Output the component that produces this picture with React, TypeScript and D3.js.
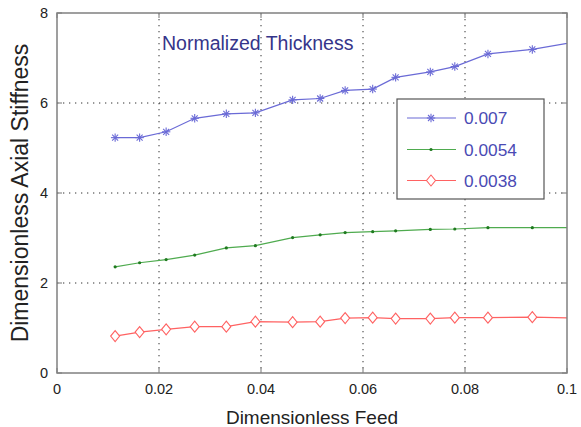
import React from 'react';
import * as d3 from 'd3';

// dimensionless feed (x); last point lies past the axis limit and is clipped
const feed = [0.0114, 0.0162, 0.0214, 0.027, 0.0332, 0.0389, 0.0462, 0.0516, 0.0565, 0.0619, 0.0664, 0.0732, 0.078, 0.0845, 0.0932, 0.106];
const stiff007 = [5.23, 5.23, 5.36, 5.66, 5.76, 5.78, 6.07, 6.1, 6.28, 6.31, 6.57, 6.69, 6.81, 7.09, 7.19, 7.44];
const stiff0054 = [2.36, 2.45, 2.52, 2.62, 2.78, 2.83, 3.01, 3.07, 3.12, 3.14, 3.16, 3.19, 3.2, 3.23, 3.23, 3.23];
const stiff0038 = [0.82, 0.91, 0.97, 1.03, 1.03, 1.14, 1.13, 1.14, 1.22, 1.23, 1.21, 1.21, 1.23, 1.23, 1.24, 1.21];
const seriesNames = ['0.007', '0.0054', '0.0038'];
const xTicks = [0, 0.02, 0.04, 0.06, 0.08, 0.1];
const yTicks = [0, 2, 4, 6, 8];

const W = 581, H = 427;
const m = {left: 57, right: 567, top: 13, bottom: 373};
const font = '"Liberation Sans", Arial, sans-serif';

const colors = ['#6a6ad6', '#4fab4f', '#ff6262'];

function Marker({kind, x, y}: {kind: number; x: number; y: number}) {
    if (kind === 0) {
        const r = 4.2, d = 3;
        return (
            <g stroke={colors[0]} strokeWidth={1.1}>
                <line x1={x - r} y1={y} x2={x + r} y2={y}/>
                <line x1={x} y1={y - r} x2={x} y2={y + r}/>
                <line x1={x - d} y1={y - d} x2={x + d} y2={y + d}/>
                <line x1={x - d} y1={y + d} x2={x + d} y2={y - d}/>
            </g>
        );
    }
    if (kind === 1) return <circle cx={x} cy={y} r={1.6} fill="#1f7a1f"/>;
    return <path d={`M${x},${y - 5.5}L${x + 4.5},${y}L${x},${y + 5.5}L${x - 4.5},${y}Z`}
                 fill="white" stroke={colors[2]} strokeWidth={1.1}/>;
}

export default function App() {
    const x = d3.scaleLinear().domain([0, 0.1]).range([m.left, m.right]);
    const y = d3.scaleLinear().domain([0, 8]).range([m.bottom, m.top]);
    const all = [stiff007, stiff0054, stiff0038];
    const ln = d3.line<number>().x((d, i) => x(feed[i])).y(d => y(d));

    const lgX = 397, lgY = 99;
    const lgRows = [124, 155.5, 186.5];

    return (
        <svg width={W} height={H} style={{position: 'absolute', left: 0, top: 0, background: 'white'}}
             fontFamily={font}>
            <defs>
                <clipPath id="plot">
                    <rect x={m.left} y={m.top} width={m.right - m.left} height={m.bottom - m.top}/>
                </clipPath>
            </defs>
            {/* grid */}
            <g stroke="#333" strokeWidth={1} strokeDasharray="1.3,4.7">
                {xTicks.slice(1, -1).map(t => <line key={t} x1={x(t)} x2={x(t)} y1={m.top} y2={m.bottom}/>)}
                {yTicks.slice(1, -1).map(t => <line key={t} y1={y(t)} y2={y(t)} x1={m.left} x2={m.right}/>)}
            </g>
            {/* ticks */}
            <g stroke="#777" strokeWidth={1}>
                {xTicks.map(t => <g key={t}>
                    <line x1={x(t)} x2={x(t)} y1={m.bottom} y2={m.bottom - 5}/>
                    <line x1={x(t)} x2={x(t)} y1={m.top} y2={m.top + 5}/>
                </g>)}
                {yTicks.map(t => <g key={t}>
                    <line y1={y(t)} y2={y(t)} x1={m.left} x2={m.left + 5}/>
                    <line y1={y(t)} y2={y(t)} x1={m.right} x2={m.right - 5}/>
                </g>)}
            </g>
            {/* series */}
            <g clipPath="url(#plot)">
                {all.map((s, k) => <path key={k} d={ln(s) || ''} fill="none" stroke={colors[k]} strokeWidth={1.2}/>)}
                {all.map((s, k) => s.map((v, i) => <Marker key={k + '-' + i} kind={k} x={x(feed[i])} y={y(v)}/>))}
            </g>
            <rect x={m.left} y={m.top} width={m.right - m.left} height={m.bottom - m.top}
                  fill="none" stroke="#808080" strokeWidth={1.5}/>
            {/* tick labels */}
            <g fontSize={14.5} fill="#222">
                {xTicks.map(t => <text key={t} x={x(t)} y={394} textAnchor="middle">{d3.format('~g')(t)}</text>)}
                {yTicks.map(t => <text key={t} x={48} y={y(t) + 5} textAnchor="end">{t}</text>)}
            </g>
            <text x={(m.left + m.right) / 2} y={424} fontSize={19} textAnchor="middle" fill="#222">Dimensionless Feed</text>
            <text transform={`translate(28,${(m.top + m.bottom) / 2}) rotate(-90)`} fontSize={23}
                  textAnchor="middle" fill="#222">Dimensionless Axial Stiffness</text>
            <text x={162} y={50} fontSize={19.5} fill="#35358a">Normalized Thickness</text>
            {/* legend */}
            <rect x={lgX} y={lgY} width={147} height={100} fill="white" stroke="#555" strokeWidth={1.2}/>
            {seriesNames.map((n, k) => <g key={n}>
                <line x1={407} x2={456} y1={lgRows[k] - 6} y2={lgRows[k] - 6} stroke={colors[k]} strokeWidth={1.2}/>
                <Marker kind={k} x={431} y={lgRows[k] - 6}/>
                <text x={464} y={lgRows[k]} fontSize={17.3} fill="#4a4ab4">{n}</text>
            </g>)}
        </svg>
    );
}
